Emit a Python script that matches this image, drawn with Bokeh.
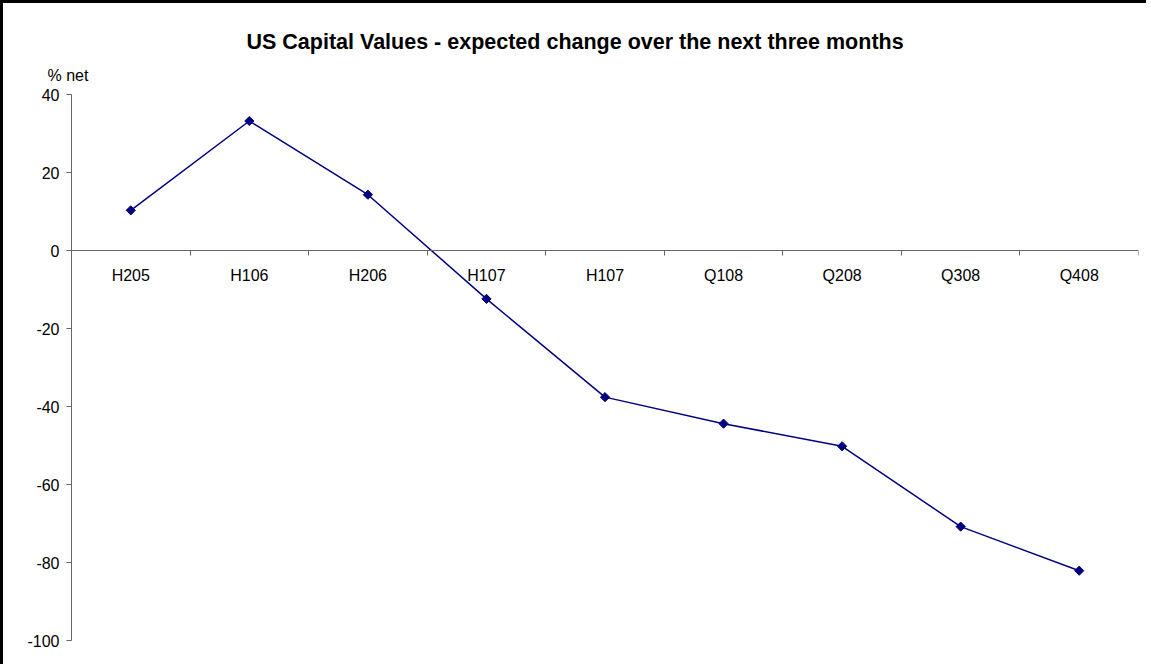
import math
from bokeh.plotting import figure
from bokeh.models import Range1d, FixedTicker, Title
from bokeh.embed import file_html
from bokeh.resources import INLINE

# ---- data ----
categories = ["H205", "H106", "H206", "H107", "H107", "Q108", "Q208", "Q308", "Q408"]
values = [10.3, 33.2, 14.3, -12.4, -37.6, -44.4, -50.2, -70.8, -82.1]
y_ticks = [40, 20, 0, -20, -40, -60, -80, -100]
title_text = "US Capital Values - expected change over the next three months"
y_unit = "% net"

FONT = "Liberation Sans"
LINE_COLOR = "#000080"
AXIS_COLOR = "#666666"

x = list(range(len(categories)))
boundaries = [i - 0.5 for i in range(len(categories) + 1)]

p = figure(
    frame_width=1067, frame_height=546,
    min_border_left=68, min_border_top=91, min_border_right=8, min_border_bottom=24,
    x_range=Range1d(-0.5, len(categories) - 0.5),
    y_range=Range1d(min(y_ticks), max(y_ticks)),
    output_backend="svg", toolbar_location=None, tools="",
)
p.styles = {"border-top": "3px solid black", "border-left": "3px solid black"}
p.outline_line_color = None
p.grid.visible = False
p.background_fill_color = "white"
p.border_fill_color = "white"

# y axis
p.yaxis.ticker = FixedTicker(ticks=y_ticks)
p.yaxis.major_label_overrides = {t: str(t) for t in y_ticks}
p.yaxis.axis_line_color = AXIS_COLOR
p.yaxis.major_tick_line_color = AXIS_COLOR
p.yaxis.major_tick_out = 5
p.yaxis.major_tick_in = 0
p.yaxis.minor_tick_line_color = None
p.yaxis.major_label_text_font = FONT
p.yaxis.major_label_text_font_size = "16px"
p.yaxis.major_label_text_color = "black"
p.yaxis.major_label_standoff = 7

# x axis crossing at zero, ticks between categories
p.xaxis.fixed_location = 0
p.xaxis.ticker = FixedTicker(ticks=x, minor_ticks=boundaries)
p.xaxis.major_label_overrides = {i: c for i, c in enumerate(categories)}
p.xaxis.axis_line_color = AXIS_COLOR
p.xaxis.major_tick_line_color = None
p.xaxis.major_tick_out = 0
p.xaxis.major_tick_in = 0
p.xaxis.minor_tick_line_color = AXIS_COLOR
p.xaxis.minor_tick_out = 5
p.xaxis.minor_tick_in = 0
p.xaxis.major_label_text_font = FONT
p.xaxis.major_label_text_font_size = "16px"
p.xaxis.major_label_text_color = "black"
p.xaxis.major_label_standoff = 11

# series
p.line(x, values, line_color=LINE_COLOR, line_width=1.5)
p.scatter(x, values, marker="square", size=6.5, angle=math.pi / 4,
          fill_color=LINE_COLOR, line_color=LINE_COLOR)

# texts: unit label (nearest the frame) then the main title
p.add_layout(Title(text=y_unit, align="left", offset=-24, standoff=22,
                   text_font=FONT, text_font_size="16px", text_font_style="normal",
                   text_color="black"), "above")
p.add_layout(Title(text=title_text, align="left", offset=175, standoff=0,
                   text_font=FONT, text_font_size="21.5px", text_font_style="bold",
                   text_color="black"), "above")

open("out.html", "w").write(file_html(p, INLINE))
